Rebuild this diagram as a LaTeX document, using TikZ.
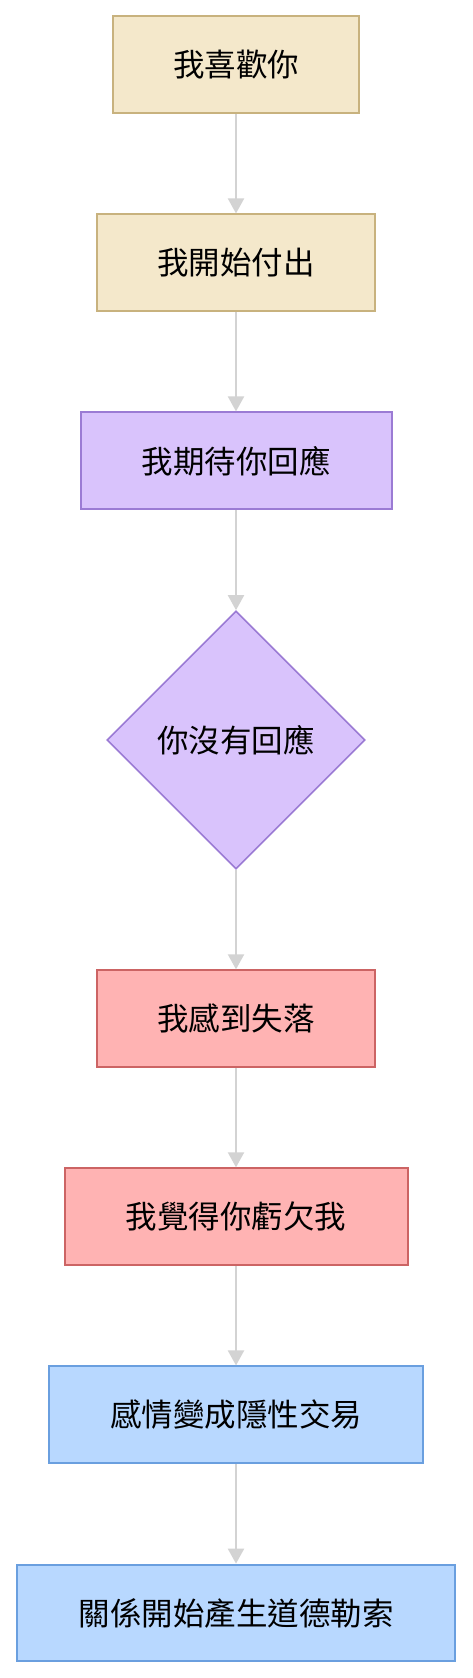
\documentclass[tikz,border=0pt]{standalone}
\usepackage{fontspec}
\newfontfamily\cjk{Noto Sans CJK TC}
\usetikzlibrary{shapes.geometric,arrows.meta}
\definecolor{yfill}{HTML}{F4E8CB}
\definecolor{ydraw}{HTML}{C8B27E}
\definecolor{pfill}{HTML}{D9C3FC}
\definecolor{pdraw}{HTML}{9B7BD4}
\definecolor{rfill}{HTML}{FFB3B3}
\definecolor{rdraw}{HTML}{CC6464}
\definecolor{bfill}{HTML}{B8D8FF}
\definecolor{bdraw}{HTML}{6A9FDF}
\definecolor{edgec}{HTML}{D3D3D3}
\tikzset{
  box/.style={rectangle, line width=2pt, minimum height=96.7pt, inner sep=0pt,
    font=\cjk\fontsize{31.5}{37}\selectfont, text=black},
  ybox/.style={box, fill=yfill, draw=ydraw},
  pbox/.style={box, fill=pfill, draw=pdraw},
  rbox/.style={box, fill=rfill, draw=rdraw},
  bbox/.style={box, fill=bfill, draw=bdraw},
  decision/.style={diamond, aspect=1, line width=1.6pt, inner sep=0pt,
    minimum width=258pt, minimum height=258pt, fill=pfill, draw=pdraw,
    font=\cjk\fontsize{31.5}{37}\selectfont, text=black},
  flow/.style={draw=edgec, line width=2pt, -{Triangle[width=16pt,length=15pt]}, edgec}
}
\begin{document}
\begin{tikzpicture}[x=1pt,y=1pt]
\useasboundingbox (0,0) rectangle (472,-1678);
\node[ybox, minimum width=246pt] (n1) at (236,-64.7) {我喜歡你};
\node[ybox, minimum width=278.7pt] (n2) at (236,-262.8) {我開始付出};
\node[pbox, minimum width=311pt] (n3) at (236,-460.8) {我期待你回應};
\node[decision] (n4) at (236,-740) {你沒有回應};
\node[rbox, minimum width=278.7pt] (n5) at (236,-1018.7) {我感到失落};
\node[rbox, minimum width=343pt] (n6) at (236,-1216.7) {我覺得你虧欠我};
\node[bbox, minimum width=374.3pt] (n7) at (236,-1414.8) {感情變成隱性交易};
\node[bbox, minimum width=438.3pt] (n8) at (236,-1613) {關係開始產生道德勒索};
\draw[flow] (n1) -- (n2);
\draw[flow] (n2) -- (n3);
\draw[flow] (n3) -- (n4);
\draw[flow] (n4) -- (n5);
\draw[flow] (n5) -- (n6);
\draw[flow] (n6) -- (n7);
\draw[flow] (n7) -- (n8);
\end{tikzpicture}
\end{document}
